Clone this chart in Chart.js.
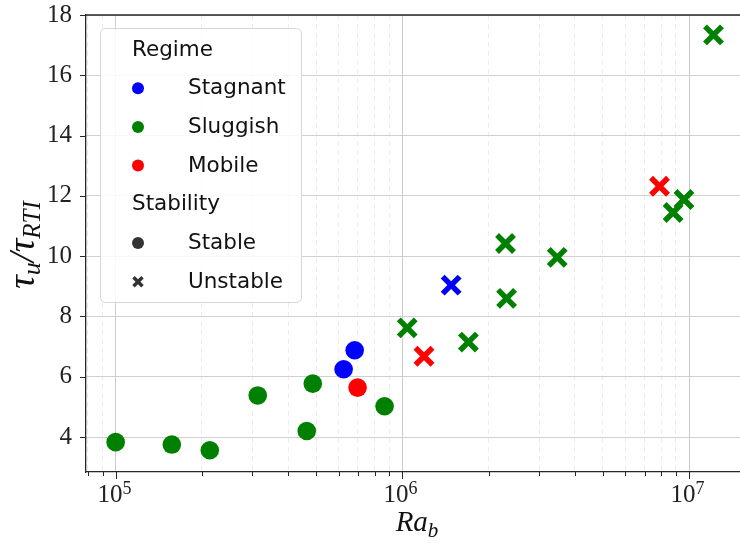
<!DOCTYPE html>
<html lang="en">

<head>
    <meta charset="UTF-8">
    <meta name="viewport" content="width=device-width, initial-scale=1.0">
    <script src="https://cdn.jsdelivr.net/npm/chart.js@4.4.1/dist/chart.umd.min.js"></script>
    <title>Overturn time vs Ra_b</title>
    <style>
        html, body { margin: 0; padding: 0; background: #fff; overflow: hidden; }
        #wrap { width: 740px; height: 543px; position: relative; }
    </style>
</head>

<body>
    <div id="wrap"><canvas id="myChart"></canvas></div>

    <script>
        // data
        const raB = [1.0e5, 1.57e5, 2.13e5, 3.13e5, 4.64e5, 4.87e5, 6.24e5, 6.82e5, 6.98e5, 8.67e5,
            1.04e6, 1.19e6, 1.48e6, 1.70e6, 2.29e6, 2.31e6, 3.47e6, 7.89e6, 8.8e6, 9.6e6, 1.217e7]
        const tauRatio = [3.83, 3.75, 3.56, 5.38, 4.20, 5.77, 6.25, 6.88, 5.64, 5.02,
            7.62, 6.68, 9.04, 7.15, 10.42, 8.60, 9.96, 12.32, 11.45, 11.88, 17.34]
        const regime = ['Sluggish', 'Sluggish', 'Sluggish', 'Sluggish', 'Sluggish', 'Sluggish', 'Stagnant', 'Stagnant', 'Mobile', 'Sluggish',
            'Sluggish', 'Mobile', 'Stagnant', 'Sluggish', 'Sluggish', 'Sluggish', 'Sluggish', 'Mobile', 'Sluggish', 'Sluggish', 'Sluggish']
        const stability = ['Stable', 'Stable', 'Stable', 'Stable', 'Stable', 'Stable', 'Stable', 'Stable', 'Stable', 'Stable',
            'Unstable', 'Unstable', 'Unstable', 'Unstable', 'Unstable', 'Unstable', 'Unstable', 'Unstable', 'Unstable', 'Unstable', 'Unstable']

        const regimeNames = ['Stagnant', 'Sluggish', 'Mobile']
        const regimeColors = ['#0000ff', '#008000', '#ff0000']
        const stabilityNames = ['Stable', 'Unstable']
        const yTicks = [4, 6, 8, 10, 12, 14, 16, 18]

        const isPow10 = (v) => v > 0 && Math.abs(Math.log10(v) - Math.round(Math.log10(v))) < 1e-9
        const serif = '"Liberation Serif", "DejaVu Serif", serif'
        const sans = '"DejaVu Sans", sans-serif'

        const datasets = []
        stabilityNames.forEach(st => {
            regimeNames.forEach((rg, k) => {
                const pts = []
                raB.forEach((x, i) => {
                    if (regime[i] === rg && stability[i] === st) pts.push({ x: x, y: tauRatio[i] })
                })
                if (!pts.length) return
                const cross = st === 'Unstable'
                datasets.push({
                    label: rg + ' / ' + st,
                    data: pts,
                    pointStyle: cross ? 'crossRot' : 'circle',
                    pointRadius: cross ? 12 : 9.3,
                    pointHoverRadius: cross ? 12 : 9.3,
                    borderWidth: cross ? 5.5 : 0,
                    backgroundColor: regimeColors[k],
                    borderColor: regimeColors[k],
                })
            })
        })

        const drawRich = (ctx, parts, style) => {
            // parts: [text, size, dy]; drawn left to right, centred on 0
            let w = 0
            parts.forEach(p => { ctx.font = `${style} ${p[1]}px ${serif}`; w += ctx.measureText(p[0]).width })
            let x = -w / 2
            parts.forEach(p => {
                ctx.font = `${style} ${p[1]}px ${serif}`
                ctx.fillText(p[0], x, p[2])
                x += ctx.measureText(p[0]).width
            })
        }

        const decor = {
            id: 'decor',
            afterDraw(chart) {
                const ctx = chart.ctx
                const area = chart.chartArea
                const xs = chart.scales.x
                const ys = chart.scales.y
                ctx.save()
                ctx.strokeStyle = '#262626'
                ctx.lineWidth = 1.3
                // top spine
                ctx.beginPath()
                ctx.moveTo(area.left, area.top)
                ctx.lineTo(area.right, area.top)
                ctx.stroke()
                // tick marks and the 10^n labels
                ctx.lineWidth = 1
                ctx.fillStyle = '#222'
                ctx.textBaseline = 'alphabetic'
                xs.ticks.forEach(t => {
                    const px = Math.round(xs.getPixelForValue(t.value)) + 0.5
                    const major = isPow10(t.value)
                    ctx.beginPath()
                    ctx.moveTo(px, area.bottom)
                    ctx.lineTo(px, area.bottom + (major ? 7 : 4))
                    ctx.stroke()
                    if (major) {
                        ctx.save()
                        ctx.translate(px - 2, 502)
                        drawRich(ctx, [['10', 25, 0], [String(Math.round(Math.log10(t.value))), 18, -8]], 'normal')
                        ctx.restore()
                    }
                })
                ys.ticks.forEach(t => {
                    const py = Math.round(ys.getPixelForValue(t.value)) + 0.5
                    ctx.beginPath()
                    ctx.moveTo(area.left - 6, py)
                    ctx.lineTo(area.left, py)
                    ctx.stroke()
                })

                // legend
                const bx = 100.5, by = 28.5, bw = 201, bh = 274, r = 5
                ctx.beginPath()
                ctx.roundRect(bx, by, bw, bh, r)
                ctx.fillStyle = 'rgba(255,255,255,0.85)'
                ctx.fill()
                ctx.strokeStyle = '#d6d6d6'
                ctx.lineWidth = 1
                ctx.stroke()

                ctx.fillStyle = '#111'
                ctx.font = `21.5px ${sans}`
                ctx.textAlign = 'left'
                const rowY = (i) => 55.5 + i * 38.7
                ctx.fillText('Regime', 132, rowY(0))
                regimeNames.forEach((name, i) => {
                    const y = rowY(i + 1)
                    ctx.fillStyle = regimeColors[i]
                    ctx.beginPath()
                    ctx.arc(138, y - 6, 6, 0, Math.PI * 2)
                    ctx.fill()
                    ctx.fillStyle = '#111'
                    ctx.fillText(name, 188, y)
                })
                ctx.fillText('Stability', 132, rowY(4))
                stabilityNames.forEach((name, i) => {
                    const y = rowY(i + 5)
                    ctx.fillStyle = '#333'
                    ctx.strokeStyle = '#333'
                    if (name === 'Stable') {
                        ctx.beginPath()
                        ctx.arc(138, y - 6, 6, 0, Math.PI * 2)
                        ctx.fill()
                    } else {
                        ctx.lineWidth = 3.5
                        ctx.beginPath()
                        ctx.moveTo(133.5, y - 10.5); ctx.lineTo(142.5, y - 1.5)
                        ctx.moveTo(142.5, y - 10.5); ctx.lineTo(133.5, y - 1.5)
                        ctx.stroke()
                    }
                    ctx.fillStyle = '#111'
                    ctx.fillText(name, 188, y)
                })

                // axis titles
                ctx.fillStyle = '#111'
                ctx.save()
                ctx.translate(34, 245)
                ctx.rotate(-Math.PI / 2)
                drawRich(ctx, [['τ', 38, 0], ['u', 26, 6], ['/', 36, 0], ['τ', 38, 0], ['RTI', 25, 6]], 'italic')
                ctx.restore()
                ctx.save()
                ctx.translate(417, 531)
                drawRich(ctx, [['Ra', 29, 0], ['b', 21, 6]], 'italic')
                ctx.restore()
                ctx.restore()
            }
        }

        const ctx = document.getElementById('myChart').getContext('2d')
        const myChart = new Chart(ctx, {
            type: 'scatter',
            data: { datasets: datasets },
            options: {
                responsive: true,
                maintainAspectRatio: false,
                animation: false,
                events: [],
                layout: { autoPadding: false, padding: { top: 15, left: 0, right: 0, bottom: 0 } },
                plugins: {
                    legend: { display: false },
                    tooltip: { enabled: false }
                },
                scales: {
                    x: {
                        type: 'logarithmic',
                        min: 7.88e4,
                        max: 1.506e7,
                        afterBuildTicks: (scale) => {
                            scale.ticks = scale.ticks.filter(t => {
                                const m = t.value / Math.pow(10, Math.floor(Math.log10(t.value) + 1e-9))
                                return Math.abs(m - Math.round(m)) < 1e-6
                            })
                        },
                        afterFit: (scale) => {
                            scale.height = 71
                            scale.paddingLeft = 0
                            scale.paddingRight = 0
                        },
                        ticks: {
                            autoSkip: false,
                            maxRotation: 0,
                            // labels are drawn by the decor plugin (superscript exponent)
                            callback: () => ''
                        },
                        grid: {
                            color: (c) => c.tick && isPow10(c.tick.value) ? '#cccccc' : '#ececec',
                            lineWidth: 1,
                            tickLength: 7,
                            tickColor: 'rgba(0,0,0,0)'
                        },
                        border: {
                            color: '#262626',
                            width: 1.3,
                            dash: (c) => c.tick && !isPow10(c.tick.value) ? [5, 4] : []
                        }
                    },
                    y: {
                        type: 'linear',
                        min: 2.84,
                        max: 18,
                        afterBuildTicks: (scale) => {
                            scale.ticks = yTicks.map(v => ({ value: v }))
                        },
                        afterFit: (scale) => {
                            scale.width = 86
                            scale.paddingTop = 0
                            scale.paddingBottom = 0
                        },
                        ticks: {
                            padding: 8,
                            color: '#222',
                            font: { family: serif, size: 25 }
                        },
                        grid: {
                            color: '#d0d0d0',
                            lineWidth: 1,
                            tickLength: 6,
                            tickColor: 'rgba(0,0,0,0)'
                        },
                        border: { color: '#262626', width: 1.3 }
                    }
                }
            },
            plugins: [decor]
        })
    </script>
</body>

</html>
